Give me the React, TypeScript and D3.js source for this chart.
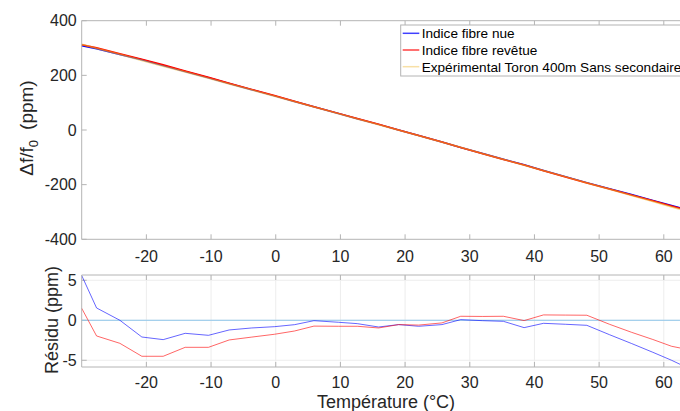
import * as d3 from "d3";

// temperature sample points (°C)
const temps = [
  -30, -27.7, -24.1, -20.7, -17.4, -14.0, -10.4, -7.2, -3.7, -0.2, 2.9, 5.9,
  9.7, 12.6, 15.9, 19.0, 22.1, 25.7, 28.6, 32.0, 35.2, 38.4, 41.4, 44.8, 48.1,
  51.6, 55.0, 58.3, 61.2, 62.5,
];

// Δf/f0 (ppm)
const experimental = [
  313.6, 299.1, 276.4, 254.9, 234.0, 212.4, 189.4, 168.9, 146.5, 124.1, 104.0,
  84.7, 60.0, 41.1, 19.7, -0.6, -20.9, -44.5, -63.6, -86.1, -107.2, -128.4,
  -148.4, -171.1, -193.1, -216.5, -239.3, -261.6, -281.2, -290.0,
];
const fibreNue = [
  308.0, 297.6, 276.4, 257.0, 236.4, 214.0, 191.3, 170.1, 147.5, 124.9, 104.6,
  84.8, 60.3, 41.5, 20.5, -0.1, -20.2, -44.0, -63.7, -86.1, -107.1, -127.5,
  -148.0, -170.6, -192.5, -214.7, -236.4, -257.6, -276.2, -284.5,
];
const fibreRevetue = [
  312.1, 301.1, 279.3, 259.4, 238.5, 215.8, 192.8, 171.4, 148.6, 125.9, 105.3,
  85.4, 60.8, 41.9, 20.7, -0.1, -20.3, -44.2, -64.1, -86.6, -107.7, -128.4,
  -149.1, -171.8, -193.7, -216.0, -237.8, -259.2, -277.9, -286.5,
];

// residuals (ppm)
const residuNue = [
  5.6, 1.54, 0.0, -2.09, -2.42, -1.63, -1.88, -1.21, -0.96, -0.8, -0.55, -0.05,
  -0.25, -0.42, -0.84, -0.54, -0.75, -0.54, 0.08, -0.05, -0.13, -0.92, -0.38,
  -0.5, -0.63, -1.8, -2.9, -4.0, -5.0, -5.5,
];
const residuRevetue = [
  1.5, -1.96, -2.88, -4.5, -4.5, -3.38, -3.38, -2.46, -2.1, -1.75, -1.34, -0.73,
  -0.75, -0.75, -0.96, -0.54, -0.6, -0.33, 0.5, 0.48, 0.5, -0.04, 0.67, 0.65,
  0.63, -0.5, -1.5, -2.4, -3.25, -3.46,
];
const residuExp = [0, 0];
const residuExpT = [-30, 62.5];

const xTicks = [-20, -10, 0, 10, 20, 30, 40, 50, 60];
const yTicksTop = [-400, -200, 0, 200, 400];
const yTicksRes = [-5, 0, 5];

const legendLabels = [
  "Indice fibre nue",
  "Indice fibre revêtue",
  "Expérimental Toron 400m Sans secondaire",
];

const font = "'Liberation Sans', Arial, Helvetica, sans-serif";
const axisColor = "#b4b4b4";
const textColor = "#262626";
const blue = "#0000ff";
const red = "#ff0000";
const yellow = "#edb120";

export default function App() {
  const left = 81.7;
  const right = 690;
  const top1 = 20.7;
  const bottom1 = 239.3;
  const top2 = 275;
  const bottom2 = 367;
  const tick = 5;

  const x = d3.scaleLinear().domain([-30, 64.05]).range([left, right]);
  const y1 = d3.scaleLinear().domain([-400, 400]).range([bottom1, top1]);
  const y2 = d3.scaleLinear().domain([-5.84, 5.66]).range([bottom2, top2]);

  const line1 = (vals: number[]) =>
    d3
      .line<number>()
      .x((_, i) => x(temps[i]))
      .y((d) => y1(d))(vals) ?? "";
  const line2 = (vals: number[], ts: number[] = temps) =>
    d3
      .line<number>()
      .x((_, i) => x(ts[i]))
      .y((d) => y2(d))(vals) ?? "";

  const legendColors = [blue, red, yellow];

  return (
    <svg
      width={680}
      height={411}
      style={{ position: "absolute", left: 0, top: 0, display: "block" }}
      fontFamily={font}
    >
      <rect width={680} height={411} fill="#fff" />

      {/* top axes */}
      <g>
        {xTicks.map((t) => (
          <g key={t}>
            <line x1={x(t)} x2={x(t)} y1={bottom1} y2={bottom1 - tick} stroke={axisColor} />
            <line x1={x(t)} x2={x(t)} y1={top1} y2={top1 + tick} stroke={axisColor} />
            <text x={x(t)} y={262} fontSize={16} fill={textColor} textAnchor="middle">
              {t}
            </text>
          </g>
        ))}
        {yTicksTop.map((t) => (
          <g key={t}>
            <line x1={left} x2={left + tick} y1={y1(t)} y2={y1(t)} stroke={axisColor} />
            <text x={left - 5} y={y1(t)} dy="0.36em" fontSize={16} fill={textColor} textAnchor="end">
              {t}
            </text>
          </g>
        ))}
        <path d={line1(fibreNue)} fill="none" stroke={blue} strokeWidth={1.5} />
        <path d={line1(fibreRevetue)} fill="none" stroke={red} strokeWidth={1.5} />
        <path d={line1(experimental)} fill="none" stroke={yellow} strokeOpacity={0.55} strokeWidth={1.8} />
        <path
          d={`M${right},${top1}H${left}V${bottom1}H${right}`}
          fill="none"
          stroke={axisColor}
        />
        <text
          transform={`translate(33,128) rotate(-90)`}
          fontSize={19}
          fill={textColor}
          textAnchor="middle"
        >
          Δf/f
          <tspan fontSize={13} dy={5}>
            0
          </tspan>
          <tspan dy={-5} dx={10}>
            (ppm)
          </tspan>
        </text>

        {/* legend */}
        <rect x={400.7} y={25} width={300} height={51} fill="#fff" stroke={axisColor} />
        {legendLabels.map((label, i) => (
          <g key={label}>
            <line
              x1={402.7}
              x2={419.3}
              y1={33.3 + i * 16.7}
              y2={33.3 + i * 16.7}
              stroke={legendColors[i]}
              strokeOpacity={i === 2 ? 0.4 : 0.75}
              strokeWidth={1.5}
            />
            <text x={421.7} y={38.3 + i * 16.7} fontSize={13.6} fill="#000">
              {label}
            </text>
          </g>
        ))}
      </g>

      {/* residual axes */}
      <g>
        {xTicks.map((t) => (
          <line key={"g" + t} x1={x(t)} x2={x(t)} y1={top2} y2={bottom2} stroke="#ededed" />
        ))}
        {yTicksRes.map((t) => (
          <line key={"h" + t} x1={left} x2={right} y1={y2(t)} y2={y2(t)} stroke="#ededed" />
        ))}
        {xTicks.map((t) => (
          <g key={t}>
            <line x1={x(t)} x2={x(t)} y1={bottom2} y2={bottom2 - tick} stroke={axisColor} />
            <line x1={x(t)} x2={x(t)} y1={top2} y2={top2 + tick} stroke={axisColor} />
            <text x={x(t)} y={388} fontSize={16} fill={textColor} textAnchor="middle">
              {t}
            </text>
          </g>
        ))}
        {yTicksRes.map((t) => (
          <g key={t}>
            <line x1={left} x2={left + tick} y1={y2(t)} y2={y2(t)} stroke={axisColor} />
            <text x={left - 5} y={y2(t)} dy="0.36em" fontSize={16} fill={textColor} textAnchor="end">
              {t}
            </text>
          </g>
        ))}
        <path d={line2(residuExp, residuExpT)} fill="none" stroke="#8ec6ea" strokeWidth={1} />
        <path d={line2(residuNue)} fill="none" stroke={blue} strokeOpacity={0.6} strokeWidth={1} />
        <path d={line2(residuRevetue)} fill="none" stroke={red} strokeOpacity={0.6} strokeWidth={1} />
        <path
          d={`M${right},${top2}H${left}V${bottom2}H${right}`}
          fill="none"
          stroke={axisColor}
        />
        <text
          transform={`translate(58,320) rotate(-90)`}
          fontSize={18}
          fill={textColor}
          textAnchor="middle"
        >
          Résidu (ppm)
        </text>
        <text x={386} y={408} fontSize={18} fill={textColor} textAnchor="middle">
          Température (°C)
        </text>
      </g>
    </svg>
  );
}
